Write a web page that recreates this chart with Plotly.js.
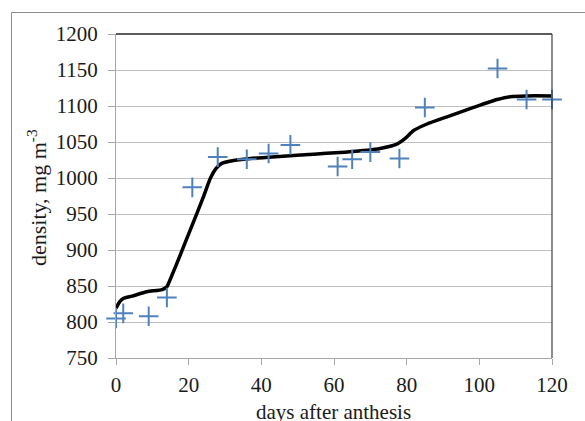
<!DOCTYPE html>
<html>
<head>
<meta charset="utf-8">
<script src="https://cdn.plot.ly/plotly-3.0.1.min.js"></script>
<style>html,body{margin:0;padding:0;background:#fff}#chart{width:585px;height:421px}</style>
</head>
<body>
<div id="chart"></div>
<script>
// Measured data points (days after anthesis, density)
const obsDays = [0, 2, 9, 14, 21, 28, 36, 42, 48, 61, 65, 70, 78, 85, 105, 113, 120];
const obsDensity = [805, 812, 808, 834, 987, 1029, 1026, 1034, 1046, 1016, 1026, 1036, 1027, 1098, 1152, 1109, 1109];

// Fitted curve
const fitDays = [0, 1, 2.1, 4.4, 8.5, 12.7, 14, 15, 18, 21, 24, 26, 27.5, 29, 32, 37, 45, 50.7, 63.6, 72.7, 77.3, 79.6, 81.9, 85.6, 91.1, 98.4, 104.9, 108.5, 113, 120];
const fitDensity = [819, 828, 833, 836, 842, 845, 849, 860, 897, 935, 973, 1000, 1013, 1020, 1024, 1027, 1030, 1032, 1036, 1041, 1047, 1055, 1066, 1075, 1085, 1098, 1109, 1113, 1114, 1114];

const xTicks = [0, 20, 40, 60, 80, 100, 120];
const yTicks = [750, 800, 850, 900, 950, 1000, 1050, 1100, 1150, 1200];

const W = 585, H = 421;
const mL = 116, mR = 33, mT = 34, mB = 63;
const pw = W - mL - mR, ph = H - mT - mB;
const px = v => (v - mL) / pw;
const py = v => (H - mB - v) / ph;

const font = 'Liberation Serif, Times New Roman, serif';
const fs = 21;

const traces = [
  {
    x: fitDays, y: fitDensity, type: 'scatter', mode: 'lines',
    line: {color: '#000000', width: 3.5, shape: 'spline', smoothing: 0.6},
    hoverinfo: 'skip', showlegend: false
  },
  {
    x: obsDays, y: obsDensity, type: 'scatter', mode: 'markers',
    marker: {symbol: 'cross-thin-open', size: 14, line: {color: '#4f81bd', width: 2}, color: '#4f81bd'},
    showlegend: false, cliponaxis: false
  }
];

const layout = {
  width: W, height: H,
  margin: {l: mL, r: mR, t: mT, b: mB, pad: 0},
  paper_bgcolor: '#ffffff', plot_bgcolor: '#ffffff',
  font: {family: font, size: fs, color: '#1a1a1a'},
  showlegend: false,
  xaxis: {
    range: [0, 120], tickvals: xTicks, ticktext: xTicks.map(String),
    showgrid: false, zeroline: false,
    showline: true, linecolor: '#a6a6a6', linewidth: 1,
    ticks: 'outside', ticklen: 6, tickcolor: '#a6a6a6', tickwidth: 1,
    ticklabelstandoff: 2,
    tickfont: {family: font, size: fs, color: '#1a1a1a'},
    fixedrange: true
  },
  yaxis: {
    range: [750, 1200], tickvals: yTicks, ticktext: yTicks.map(String),
    showgrid: true, gridcolor: '#bfbfbf', gridwidth: 1, zeroline: false,
    showline: true, linecolor: '#a6a6a6', linewidth: 1,
    ticks: 'outside', ticklen: 7, tickcolor: '#a6a6a6', tickwidth: 1,
    ticklabelstandoff: 6,
    tickfont: {family: font, size: fs, color: '#1a1a1a'},
    fixedrange: true
  },
  shapes: [
    {type: 'line', xref: 'paper', yref: 'paper', x0: 0, x1: 1, y0: 1, y1: 1, line: {color: '#262626', width: 1.5}},
    {type: 'line', xref: 'paper', yref: 'paper', x0: 1, x1: 1, y0: 0, y1: 1, line: {color: '#404040', width: 1.2}},
    {type: 'line', xref: 'paper', yref: 'paper', x0: px(11.5), x1: px(590), y0: py(12.5), y1: py(12.5), line: {color: '#8c8c8c', width: 1}},
    {type: 'line', xref: 'paper', yref: 'paper', x0: px(11.5), x1: px(11.5), y0: py(12.5), y1: py(430), line: {color: '#8c8c8c', width: 1}}
  ],
  annotations: [
    {text: 'days after anthesis', xref: 'paper', yref: 'paper', x: px(333), y: py(412), xanchor: 'center', yanchor: 'middle', showarrow: false, font: {family: font, size: fs, color: '#1a1a1a'}},
    {text: 'density, mg m<sup>-3</sup>', xref: 'paper', yref: 'paper', x: px(37), y: py(198), xanchor: 'center', yanchor: 'middle', textangle: -90, showarrow: false, font: {family: font, size: 22, color: '#1a1a1a'}}
  ]
};

Plotly.newPlot('chart', traces, layout, {staticPlot: true, displayModeBar: false});
</script>
</body>
</html>
